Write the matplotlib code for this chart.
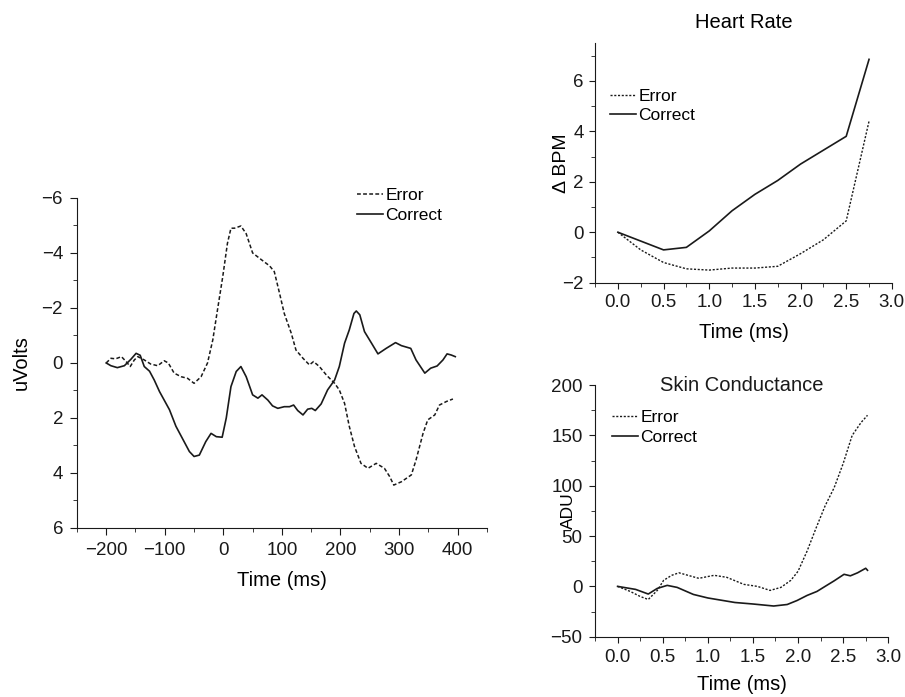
import matplotlib
matplotlib.use("Agg")
import matplotlib.pyplot as plt
from matplotlib.ticker import MultipleLocator, FormatStrFormatter

plt.rcParams['font.family'] = ['Liberation Sans', 'DejaVu Sans']
plt.rcParams['font.size'] = 13.5

# ERP (left panel)
erp_t_correct = [-200, -192, -181, -169, -158, -149, -142, -135, -126, -118,
                 -109, -101, -92, -81, -70, -58, -50, -41, -30, -21,
                 -12, -2, 5, 13, 22, 30, 39, 50, 59, 66,
                 76, 84, 93, 104, 113, 120, 127, 136, 144, 151,
                 157, 167, 178, 190, 198, 207, 215, 223, 227, 233,
                 241, 253, 264, 278, 294, 304, 320, 329, 344, 354,
                 365, 375, 382, 389, 396]
erp_correct = [0, 0.1, 0.17, 0.1, -0.13, -0.35, -0.28, 0.13, 0.3, 0.62,
               1.04, 1.35, 1.7, 2.3, 2.74, 3.22, 3.4, 3.35, 2.86, 2.56,
               2.68, 2.7, 2.0, 0.86, 0.31, 0.13, 0.5, 1.16, 1.28, 1.16,
               1.35, 1.56, 1.65, 1.59, 1.59, 1.53, 1.73, 1.89, 1.68, 1.65,
               1.73, 1.49, 0.98, 0.62, 0.13, -0.72, -1.2, -1.8, -1.89, -1.75,
               -1.14, -0.72, -0.33, -0.53, -0.74, -0.63, -0.53, -0.11, 0.37, 0.19,
               0.11, -0.11, -0.33, -0.29, -0.23]
erp_t_error = [-200, -192, -184, -174, -166, -159, -152, -146, -135, -124,
               -112, -101, -94, -84, -72, -61, -50, -38, -27, -18,
               -10, -1, 7, 13, 19, 30, 39, 50, 64, 79,
               87, 96, 104, 116, 124, 136, 147, 154, 164, 176,
               190, 198, 207, 215, 224, 235, 247, 261, 275, 284,
               291, 304, 321, 329, 341, 349, 361, 369, 381, 392]
erp_error = [0, -0.17, -0.15, -0.23, -0.05, 0.13, -0.11, -0.23, -0.11, 0.04,
             0.1, -0.08, 0, 0.37, 0.5, 0.56, 0.74, 0.5, 0, -0.84,
             -1.93, -3.14, -4.35, -4.9, -4.9, -4.98, -4.7, -4.0, -3.77, -3.53,
             -3.32, -2.53, -1.8, -1.08, -0.47, -0.17, 0.07, -0.05, 0.13, 0.44,
             0.74, 0.98, 1.47, 2.3, 3.04, 3.65, 3.83, 3.65, 3.83, 4.13,
             4.44, 4.32, 4.07, 3.53, 2.56, 2.07, 1.89, 1.53, 1.4, 1.31]

# Heart rate
hr_time = [0, 0.25, 0.5, 0.75, 1.0, 1.25, 1.5, 1.75, 2.0, 2.25, 2.5, 2.75]
hr_correct = [0, -0.35, -0.7, -0.6, 0.05, 0.85, 1.5, 2.05, 2.7, 3.25, 3.8, 6.85]
hr_error = [0, -0.7, -1.2, -1.45, -1.5, -1.42, -1.42, -1.35, -0.85, -0.3, 0.45, 4.4]

# Skin conductance
sc_t_correct = [0, 0.2, 0.34, 0.44, 0.55, 0.66, 0.84, 1.0, 1.1, 1.3, 1.5, 1.73,
                1.88, 1.99, 2.1, 2.21, 2.3, 2.4, 2.51, 2.58, 2.66, 2.75, 2.77]
sc_correct = [0, -3, -7.6, -2, 1, -1, -8, -11.5, -13, -16, -17.5, -19.5,
              -18, -14, -9, -5, 0, 5.5, 12, 10.5, 13.5, 18, 16]
sc_t_error = [0, 0.14, 0.25, 0.34, 0.44, 0.51, 0.6, 0.68, 0.8, 0.9, 1.07, 1.21, 1.4,
              1.55, 1.69, 1.81, 1.92, 2.0, 2.1, 2.2, 2.3, 2.4, 2.5, 2.6, 2.7, 2.77]
sc_error = [0, -5, -10, -13, -4, 6, 11, 13.5, 10.5, 8, 11, 9, 2,
            0, -4, -1, 6, 15, 35, 58, 80, 98, 122, 150, 163, 170]

ink = '#1a1a1a'
label_size = 14.5
legend_size = 12.5

fig = plt.figure(figsize=(9.05, 6.97), dpi=100)

ax1 = fig.add_axes([0.085, 0.2425, 0.453, 0.4735])
ax2 = fig.add_axes([0.6575, 0.5944, 0.328, 0.344])
ax3 = fig.add_axes([0.6575, 0.0865, 0.324, 0.361])

for ax in (ax1, ax2, ax3):
    ax.spines['top'].set_visible(False)
    ax.spines['right'].set_visible(False)
    ax.spines['left'].set_color(ink)
    ax.spines['bottom'].set_color(ink)
    ax.tick_params(which='both', direction='out', color=ink, labelcolor=ink)

leg_kw = dict(loc='upper left', frameon=False, borderpad=0, borderaxespad=0,
              handlelength=1.5, handletextpad=0.15, labelspacing=0.25,
              fontsize=legend_size)

# --- ERP ---
ax1.plot(erp_t_error, erp_error, color=ink, lw=1.1, ls=(0, (2.5, 1.5)), label='Error')
ax1.plot(erp_t_correct, erp_correct, color=ink, lw=1.2, label='Correct')
ax1.set_xlim(-250, 450)
ax1.set_ylim(6, -6)
ax1.xaxis.set_major_locator(MultipleLocator(100))
ax1.xaxis.set_minor_locator(MultipleLocator(50))
ax1.yaxis.set_major_locator(MultipleLocator(2))
ax1.yaxis.set_minor_locator(MultipleLocator(1))
ax1.tick_params(which='major', length=5, pad=5)
ax1.tick_params(which='minor', length=3)
ax1.set_xlabel('Time (ms)', labelpad=9, fontsize=label_size)
ax1.set_ylabel('uVolts', labelpad=8, fontsize=label_size)
ax1.legend(bbox_to_anchor=(0.683, 1.03), **leg_kw)

# --- Heart rate ---
ax2.plot(hr_time, hr_error, color=ink, lw=1.0, ls=(0, (1.5, 1.2)), label='Error')
ax2.plot(hr_time, hr_correct, color=ink, lw=1.2, label='Correct')
ax2.set_xlim(-0.25, 3.0)
ax2.set_ylim(-2, 7.5)
ax2.xaxis.set_major_locator(MultipleLocator(0.5))
ax2.xaxis.set_minor_locator(MultipleLocator(0.25))
ax2.yaxis.set_major_locator(MultipleLocator(2))
ax2.yaxis.set_minor_locator(MultipleLocator(1))
ax2.xaxis.set_major_formatter(FormatStrFormatter('%.1f'))
ax2.tick_params(which='major', length=4, pad=4)
ax2.tick_params(which='minor', length=3)
ax2.set_xlabel('Time (ms)', labelpad=9, fontsize=label_size)
ax2.set_ylabel('\u0394 BPM', fontsize=14)
ax2.yaxis.set_label_coords(-0.086, 0.5)
ax2.set_title('Heart Rate', pad=11, fontsize=label_size)
ax2.legend(bbox_to_anchor=(0.05, 0.81), **leg_kw)

# --- Skin conductance ---
ax3.plot(sc_t_error, sc_error, color=ink, lw=1.0, ls=(0, (1.5, 1.2)), label='Error')
ax3.plot(sc_t_correct, sc_correct, color=ink, lw=1.2, label='Correct')
ax3.set_xlim(-0.25, 3.0)
ax3.set_ylim(-50, 200)
ax3.xaxis.set_major_locator(MultipleLocator(0.5))
ax3.xaxis.set_minor_locator(MultipleLocator(0.25))
ax3.yaxis.set_major_locator(MultipleLocator(50))
ax3.yaxis.set_minor_locator(MultipleLocator(25))
ax3.xaxis.set_major_formatter(FormatStrFormatter('%.1f'))
ax3.tick_params(which='major', length=4, pad=5)
ax3.tick_params(which='minor', length=3)
ax3.set_xlabel('Time (ms)', labelpad=6, fontsize=label_size)
# ADU sits squeezed between the "100" and "50" tick labels, as in the original
ax3.set_ylabel('ADU', fontsize=12.5)
ax3.yaxis.set_label_coords(-0.065, 0.4994)
ax3.text(0.5, 1.0, 'Skin Conductance', transform=ax3.transAxes,
         ha='center', va='center', color=ink, fontsize=label_size)
ax3.legend(bbox_to_anchor=(0.057, 0.9), **leg_kw)

plt.savefig('out.png', dpi=100)
